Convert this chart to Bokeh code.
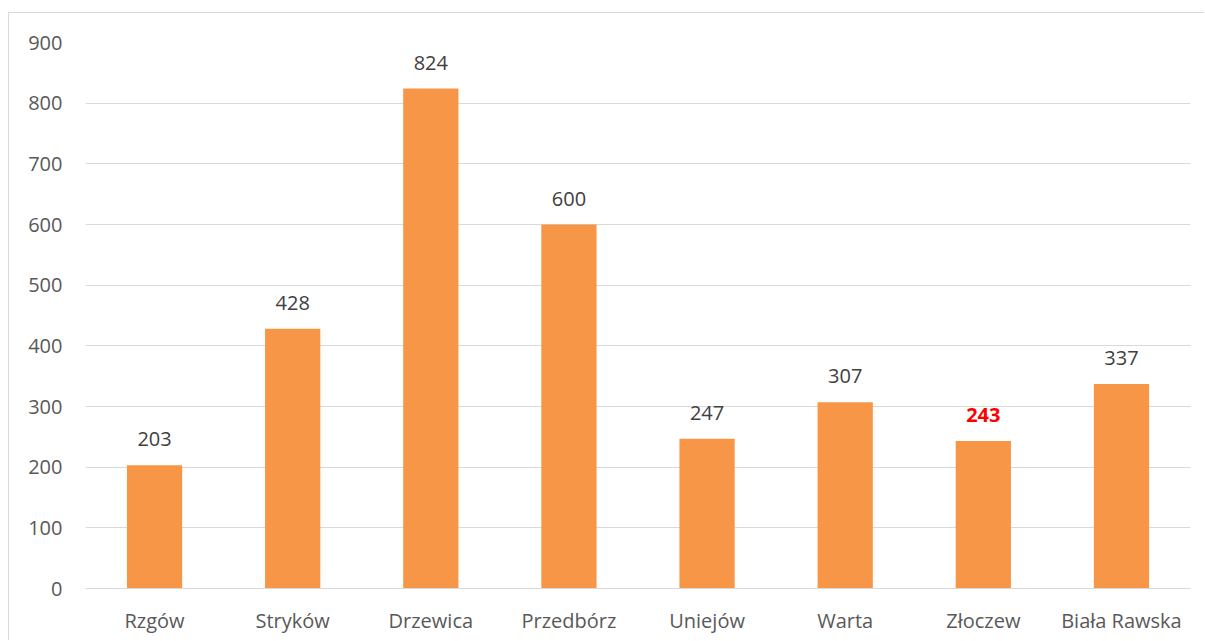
from bokeh.plotting import figure
from bokeh.models import ColumnDataSource, Range1d, FixedTicker
from bokeh.core.properties import value
from bokeh.embed import file_html
from bokeh.resources import INLINE

categories = ["Rzgów", "Stryków", "Drzewica", "Przedbórz", "Uniejów", "Warta", "Złoczew", "Biała Rawska"]
values = [203, 428, 824, 600, 247, 307, 243, 337]
label_colors = ["#404040"] * 6 + ["#FF0000"] + ["#404040"]
label_styles = ["normal"] * 6 + ["bold"] + ["normal"]
y_ticks = [0, 100, 200, 300, 400, 500, 600, 700, 800, 900]

src = ColumnDataSource(dict(cat=categories, val=values, lc=label_colors,
                            ls=label_styles, txt=[str(v) for v in values]))

p = figure(x_range=categories, y_range=Range1d(0, 900), width=1196, height=628,
           output_backend="svg", toolbar_location=None,
           min_border_left=76, min_border_right=15, min_border_top=29, min_border_bottom=53)
p.styles = {"margin-top": "12px", "margin-left": "8px",
            "border-left": "1px solid #d9d9d9", "border-top": "1px solid #d9d9d9"}
p.outline_line_color = None

p.vbar(x="cat", top="val", width=0.4, source=src, color="#F79646", line_color=None)
p.text(x="cat", y="val", text="txt", source=src, text_color="lc", text_font_style="ls",
       text_align="center", text_baseline="bottom", y_offset=-19,
       text_font=value("Open Sans"), text_font_size="20px")

p.xgrid.grid_line_color = None
p.ygrid.grid_line_color = "#d9d9d9"
p.ygrid.grid_line_width = 1
p.yaxis.ticker = FixedTicker(ticks=y_ticks)

for ax in (p.xaxis[0], p.yaxis[0]):
    ax.major_tick_line_color = None
    ax.minor_tick_line_color = None
    ax.major_label_text_font = "Open Sans"
    ax.major_label_text_font_size = "20px"
    ax.major_label_text_color = "#595959"
p.yaxis.axis_line_color = None
p.yaxis.major_label_standoff = 17
p.xaxis.axis_line_color = "#d9d9d9"
p.xaxis.major_label_standoff = 12

open("out.html", "w").write(file_html(p, INLINE))
